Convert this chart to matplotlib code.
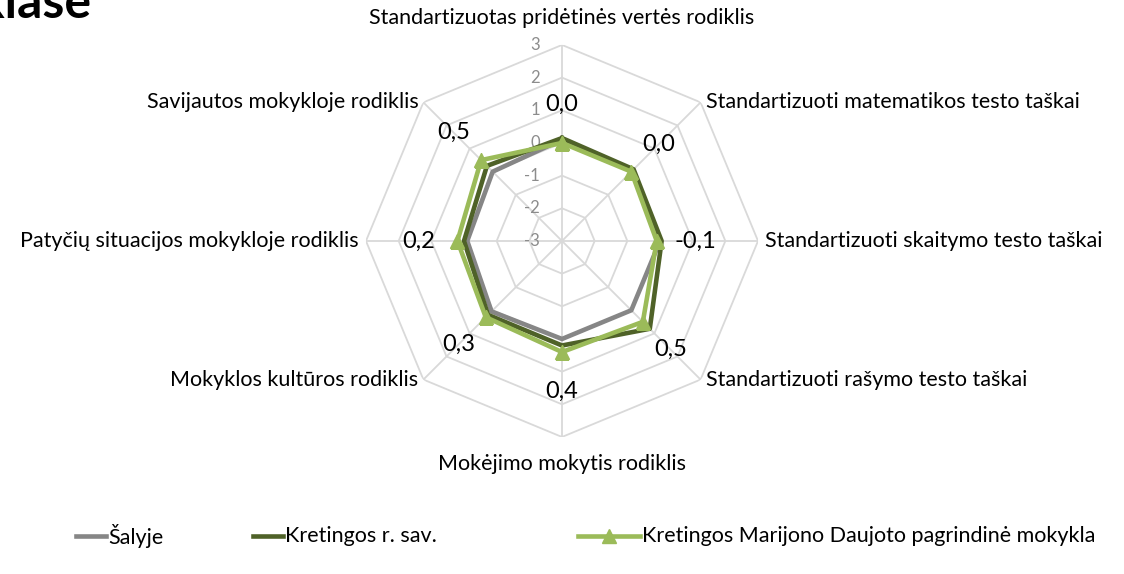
import matplotlib.pyplot as plt
import numpy as np
from matplotlib.lines import Line2D

# categories (clockwise from the top)
categories = ["Standartizuotas pridėtinės vertės rodiklis",
              "Standartizuoti matematikos testo taškai",
              "Standartizuoti skaitymo testo taškai",
              "Standartizuoti rašymo testo taškai",
              "Mokėjimo mokytis rodiklis",
              "Mokyklos kultūros rodiklis",
              "Patyčių situacijos mokykloje rodiklis",
              "Savijautos mokykloje rodiklis"]

salyje = [0.1, 0.05, 0.0, 0.0, 0.0, 0.05, -0.1, 0.0]
savivaldybe = [0.15, 0.1, 0.05, 0.8, 0.2, 0.2, 0.0, 0.25]
mokykla = [0.0, 0.0, -0.1, 0.5, 0.4, 0.3, 0.2, 0.5]
series_names = ["Šalyje", "Kretingos r. sav.", "Kretingos Marijono Daujoto pagrindinė mokykla"]
r_ticks = [-3, -2, -1, 0, 1, 2, 3]

grey_colour = "#868686"
dark_colour = "#4f6228"
light_colour = "#9bbb59"
grid_colour = "#d9d9d9"
label_fontsize = 15.5
plt.rcParams["font.family"] = ["Lato", "DejaVu Sans"]

fig = plt.figure(figsize=(11.24, 5.74), dpi=100)
ax = fig.add_axes([0.3256, 0.2387, 0.3488, 0.683], projection="polar")
ax.set_theta_offset(np.pi / 2)
ax.set_theta_direction(-1)
ax.set_ylim(r_ticks[0], r_ticks[-1])
ax.grid(False)
ax.spines["polar"].set_visible(False)
ax.set_xticks([])
ax.set_yticks([])
ax.patch.set_visible(False)

n = len(categories)
angles = np.arange(n) * 2 * np.pi / n
closed = np.append(angles, angles[0])

# octagon grid
for r in r_ticks[1:]:
    ax.plot(closed, [r] * (n + 1), color=grid_colour, lw=1.3, zorder=1)
for a in angles:
    ax.plot([a, a], [r_ticks[0], r_ticks[-1]], color=grid_colour, lw=1.3, zorder=1)

# radial tick labels
for r in r_ticks:
    ax.annotate(str(r), (0, r), xytext=(-16, 0), textcoords="offset points",
                ha="right", va="center", fontsize=12, color="#8c8c8c", zorder=2)

# series
ax.plot(closed, salyje + salyje[:1], color=grey_colour, lw=3.3, zorder=3)
ax.plot(closed, savivaldybe + savivaldybe[:1], color=dark_colour, lw=3.3, zorder=4)
ax.plot(closed, mokykla + mokykla[:1], color=light_colour, lw=3.3, marker="^",
        markersize=10, zorder=5)

# data labels of the school series
for a, v in zip(angles, mokykla):
    d = 28
    ax.annotate(f"{v:.1f}".replace(".", ","), (a, v),
                xytext=(d * np.sin(a), d * np.cos(a)), textcoords="offset points",
                ha="center", va="center", fontsize=17, color="black", zorder=6)

# category labels
for a, name in zip(angles, categories):
    s, c = np.sin(a), np.cos(a)
    if abs(s) < 0.01:
        ha = "center"
    elif s > 0:
        ha = "left"
    else:
        ha = "right"
    if abs(s) < 0.01:
        va = "bottom" if c > 0 else "top"
        off = (0, 12 * c)
    else:
        va = "center"
        off = (5 * s, 0)
    ax.annotate(name, (a, r_ticks[-1]), xytext=off, textcoords="offset points",
                ha=ha, va=va, fontsize=label_fontsize, color="black",
                annotation_clip=False)

# title fragment cut at the top left
fig.text(-22 / 1124, 1 - 18 / 574, "klase", fontsize=36, fontweight="bold", ha="left", va="baseline")

# legend
legend_y = 1 - 536 / 574
legend_items = [(76 / 1124, 106 / 1124, grey_colour, None),
                (253 / 1124, 283 / 1124, dark_colour, None),
                (578 / 1124, 640 / 1124, light_colour, "^")]
for (x0, x1, col, mk), name in zip(legend_items, series_names):
    fig.add_artist(Line2D([x0, x1], [legend_y, legend_y], color=col, lw=3.3,
                          transform=fig.transFigure))
    if mk:
        fig.add_artist(Line2D([(x0 + x1) / 2], [legend_y], color=col, marker=mk,
                              markersize=10, transform=fig.transFigure))
    fig.text(x1 + 2 / 1124, legend_y, name, fontsize=label_fontsize, ha="left", va="center")

fig.savefig("out.png", dpi=100)
